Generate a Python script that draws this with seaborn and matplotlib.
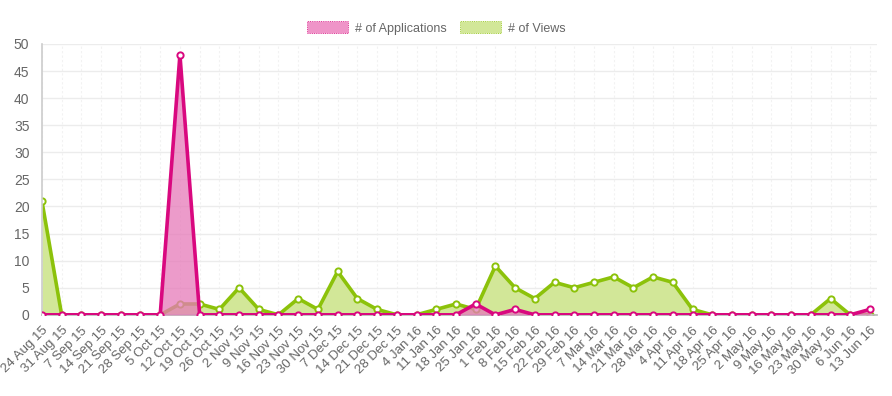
import matplotlib

matplotlib.use("Agg")
import matplotlib.pyplot as plt
import numpy as np
import seaborn as sns
from matplotlib.patches import Patch

WEEK_LABELS = [
    "24 Aug 15", "31 Aug 15", "7 Sep 15", "14 Sep 15", "21 Sep 15", "28 Sep 15",
    "5 Oct 15", "12 Oct 15", "19 Oct 15", "26 Oct 15", "2 Nov 15", "9 Nov 15",
    "16 Nov 15", "23 Nov 15", "30 Nov 15", "7 Dec 15", "14 Dec 15", "21 Dec 15",
    "28 Dec 15", "4 Jan 16", "11 Jan 16", "18 Jan 16", "25 Jan 16", "1 Feb 16",
    "8 Feb 16", "15 Feb 16", "22 Feb 16", "29 Feb 16", "7 Mar 16", "14 Mar 16",
    "21 Mar 16", "28 Mar 16", "4 Apr 16", "11 Apr 16", "18 Apr 16", "25 Apr 16",
    "2 May 16", "9 May 16", "16 May 16", "23 May 16", "30 May 16", "6 Jun 16",
    "13 Jun 16",
]

APPLICATIONS = [
    0, 0, 0, 0, 0, 0, 0, 48, 0, 0, 0, 0, 0, 0, 0, 0, 0, 0, 0, 0, 0, 0,
    2, 0, 1, 0, 0, 0, 0, 0, 0, 0, 0, 0, 0, 0, 0, 0, 0, 0, 0, 0, 1,
]

VIEWS = [
    21, 0, 0, 0, 0, 0, 0, 2, 2, 1, 5, 1, 0, 3, 1, 8, 3, 1, 0, 0, 1, 2,
    1, 9, 5, 3, 6, 5, 6, 7, 5, 7, 6, 1, 0, 0, 0, 0, 0, 0, 3, 0, 0,
]

PINK_LINE = "#d9087f"
PINK_FILL = "#e67ab9"
GREEN_LINE = "#8cc20a"
GREEN_FILL = "#d2e798"
TEXT_GRAY = "#666666"

sns.set_theme(style="white")
plt.rcParams["font.family"] = ["Liberation Sans", "DejaVu Sans"]

figure = plt.figure(figsize=(8.92, 3.96), dpi=100)
axis = figure.add_axes([0.047, 0.205, 0.936, 0.684])

positions = np.arange(len(WEEK_LABELS))

series = [
    (VIEWS, GREEN_LINE, GREEN_FILL, 1.0, 2),
    (APPLICATIONS, PINK_LINE, PINK_FILL, 0.75, 3),
]
for values, line_color, fill_color, fill_alpha, z in series:
    axis.fill_between(positions, values, 0, color=fill_color, alpha=fill_alpha,
                      linewidth=0, zorder=z)
    sns.lineplot(
        x=positions,
        y=values,
        ax=axis,
        color=line_color,
        linewidth=2.6,
        marker="o",
        markersize=4.5,
        markerfacecolor="white",
        markeredgecolor=line_color,
        markeredgewidth=1.4,
        zorder=z + 0.5,
    )

axis.set_xlim(0, len(WEEK_LABELS) - 1 + 0.35)
axis.set_ylim(0, 50)
axis.set_yticks(range(0, 51, 5))
axis.set_xticks(positions)
axis.set_xticklabels(WEEK_LABELS, rotation=45, ha="right", rotation_mode="anchor")
axis.tick_params(axis="x", labelsize=9.5, colors=TEXT_GRAY, length=5, width=0.8,
                 direction="out", pad=2)
axis.tick_params(axis="y", labelsize=10, colors=TEXT_GRAY, length=5, width=0.8,
                 direction="out", pad=4)
for label in axis.get_xticklabels() + axis.get_yticklabels():
    label.set_color(TEXT_GRAY)
axis.tick_params(axis="x", color="#eeeeee")
axis.tick_params(axis="y", color="#cccccc")

axis.yaxis.grid(True, color="#ececec", linewidth=1)
axis.xaxis.grid(True, color="#f2f2f2", linewidth=0.8, linestyle=(0, (2, 2)))
axis.set_axisbelow(True)
for side in ["top", "right"]:
    axis.spines[side].set_visible(False)
axis.spines["left"].set_color("#cccccc")
axis.spines["bottom"].set_color("#bbbbbb")
axis.spines["left"].set_linewidth(1.2)

handles = [
    Patch(facecolor="#ef94c8", edgecolor=PINK_LINE, linewidth=0.6, linestyle=":"),
    Patch(facecolor=GREEN_FILL, edgecolor=GREEN_LINE, linewidth=0.6, linestyle=":"),
]
figure.legend(
    handles,
    ["# of Applications", "# of Views"],
    loc="center",
    bbox_to_anchor=(0.489, 0.929),
    ncol=2,
    frameon=False,
    fontsize=9,
    labelcolor=TEXT_GRAY,
    handlelength=3.3,
    handleheight=1.1,
    handletextpad=0.6,
    columnspacing=1.0,
)

figure.savefig("out.png", dpi=100)
plt.close(figure)
